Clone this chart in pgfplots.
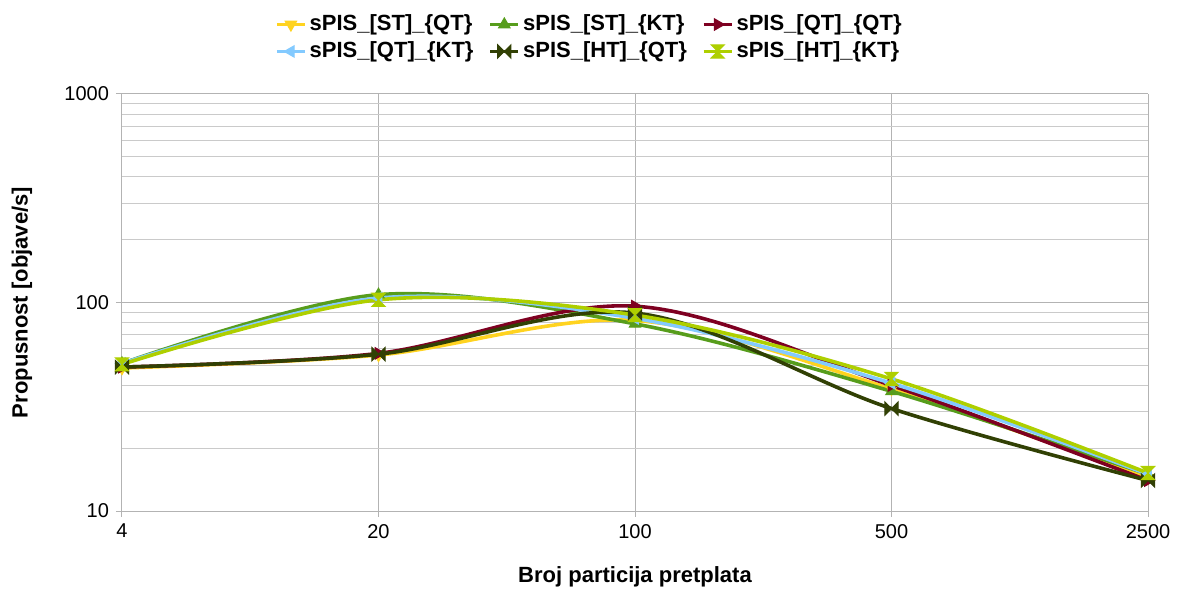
\documentclass[border=0pt]{standalone}
\usepackage{pgfplots}
\pgfplotsset{compat=1.18}
\usepackage{fontspec}
\setmainfont{Liberation Sans}
\definecolor{cyel}{HTML}{FFD320}
\definecolor{cgrn}{HTML}{579D1C}
\definecolor{cred}{HTML}{7E0021}
\definecolor{cblu}{HTML}{83CAFF}
\definecolor{colv}{HTML}{314004}
\definecolor{clim}{HTML}{AECF00}
\definecolor{cgrid}{HTML}{B3B3B3}
\pgfdeclareplotmark{hourglass}{%
  \pgfpathmoveto{\pgfqpoint{-\pgfplotmarksize}{\pgfplotmarksize}}%
  \pgfpathlineto{\pgfqpoint{\pgfplotmarksize}{\pgfplotmarksize}}%
  \pgfpathlineto{\pgfqpoint{0pt}{0pt}}%
  \pgfpathclose
  \pgfpathmoveto{\pgfqpoint{-\pgfplotmarksize}{-\pgfplotmarksize}}%
  \pgfpathlineto{\pgfqpoint{\pgfplotmarksize}{-\pgfplotmarksize}}%
  \pgfpathlineto{\pgfqpoint{0pt}{0pt}}%
  \pgfpathclose
  \pgfusepathqfillstroke}
\pgfdeclareplotmark{bowtie}{%
  \pgfpathmoveto{\pgfqpoint{-\pgfplotmarksize}{\pgfplotmarksize}}%
  \pgfpathlineto{\pgfqpoint{-\pgfplotmarksize}{-\pgfplotmarksize}}%
  \pgfpathlineto{\pgfqpoint{0pt}{0pt}}%
  \pgfpathclose
  \pgfpathmoveto{\pgfqpoint{\pgfplotmarksize}{\pgfplotmarksize}}%
  \pgfpathlineto{\pgfqpoint{\pgfplotmarksize}{-\pgfplotmarksize}}%
  \pgfpathlineto{\pgfqpoint{0pt}{0pt}}%
  \pgfpathclose
  \pgfusepathqfillstroke}
\begin{document}
\begin{tikzpicture}
\begin{axis}[
  name=ax, at={(0,0)}, anchor=south west,
  scale only axis, width=513pt, height=208.5pt,
  clip=false,
  xmin=0, xmax=4, xtick={0,1,2,3,4},
  xticklabels={4,20,100,500,2500},
  ymode=log, ymin=10, ymax=1000, ytick={10,100,1000},
  log ticks with fixed point,
  /pgf/number format/1000 sep={},
  /pgf/number format/assume math mode=true,
  ticklabel style={font=\fontsize{10}{12}\selectfont, text=black},
  grid=both, xmajorgrids, ymajorgrids, yminorgrids,
  major grid style={cgrid, line width=0.5pt},
  minor grid style={cgrid!70, line width=0.5pt},
  axis line style={cgrid, line width=0.5pt},
  axis x line*=bottom, axis y line*=left,
  tick style={cgrid, line width=0.5pt},
  tick align=outside, major tick length=3pt, minor tick length=0pt,
  xlabel={\bfseries Broj particija pretplata},
  ylabel={\bfseries Propusnost [objave/s]},
  label style={font=\fontsize{11}{13}\selectfont\bfseries},
  xlabel style={at={(rel axis cs:0.5,0)}, anchor=center, yshift=-33pt},
  ylabel style={at={(rel axis cs:0,0.5)}, anchor=center, yshift=50pt},
  every axis plot/.append style={line width=1.8pt, smooth, tension=0.55, mark size=3.3pt},
  legend columns=3,
  legend style={draw=none, fill=none, at={(0.456,1)}, anchor=center, yshift=28pt,
    font=\fontsize{11}{13}\selectfont\bfseries, row sep=2pt,
    nodes={inner xsep=1.5pt, inner ysep=1pt},
    /tikz/every even column/.append style={column sep=6pt}},
  legend cell align=left,
  legend image code/.code={\draw[mark repeat=2,mark phase=2] plot coordinates {(0pt,0pt)(7pt,0pt)(14pt,0pt)};},
]
\addplot[color=cyel, mark=triangle*, mark options={rotate=180, fill=cyel, draw=cyel, line width=0.5pt}] coordinates {(0,48.5)(1,56)(2,82)(3,38.5)(4,14.4)};
\addlegendentry{sPIS\_[ST]\_\{QT\}}
\addplot[color=cgrn, mark=triangle*, mark options={fill=cgrn, draw=cgrn, line width=0.5pt}] coordinates {(0,51)(1,109)(2,79)(3,37.5)(4,15)};
\addlegendentry{sPIS\_[ST]\_\{KT\}}
\addplot[color=cred, mark=triangle*, mark options={rotate=-90, fill=cred, draw=cred, line width=0.5pt}] coordinates {(0,49)(1,57)(2,96)(3,40)(4,14)};
\addlegendentry{sPIS\_[QT]\_\{QT\}}
\addplot[color=cblu, mark=triangle*, mark options={rotate=90, fill=cblu, draw=cblu, line width=0.5pt}] coordinates {(0,51)(1,105)(2,84)(3,41)(4,15)};
\addlegendentry{sPIS\_[QT]\_\{KT\}}
\addplot[color=colv, mark=bowtie, mark options={fill=colv, draw=colv, line width=0.5pt}] coordinates {(0,49)(1,56.5)(2,89)(3,31)(4,14)};
\addlegendentry{sPIS\_[HT]\_\{QT\}}
\addplot[color=clim, mark=hourglass, mark options={fill=clim, draw=clim, line width=0.5pt}] coordinates {(0,50.5)(1,103)(2,87)(3,43)(4,15.2)};
\addlegendentry{sPIS\_[HT]\_\{KT\}}
\end{axis}
\pgfresetboundingbox
\path[use as bounding box] (-61pt,-39pt) rectangle (529.5pt,255.5pt);
\end{tikzpicture}
\end{document}
